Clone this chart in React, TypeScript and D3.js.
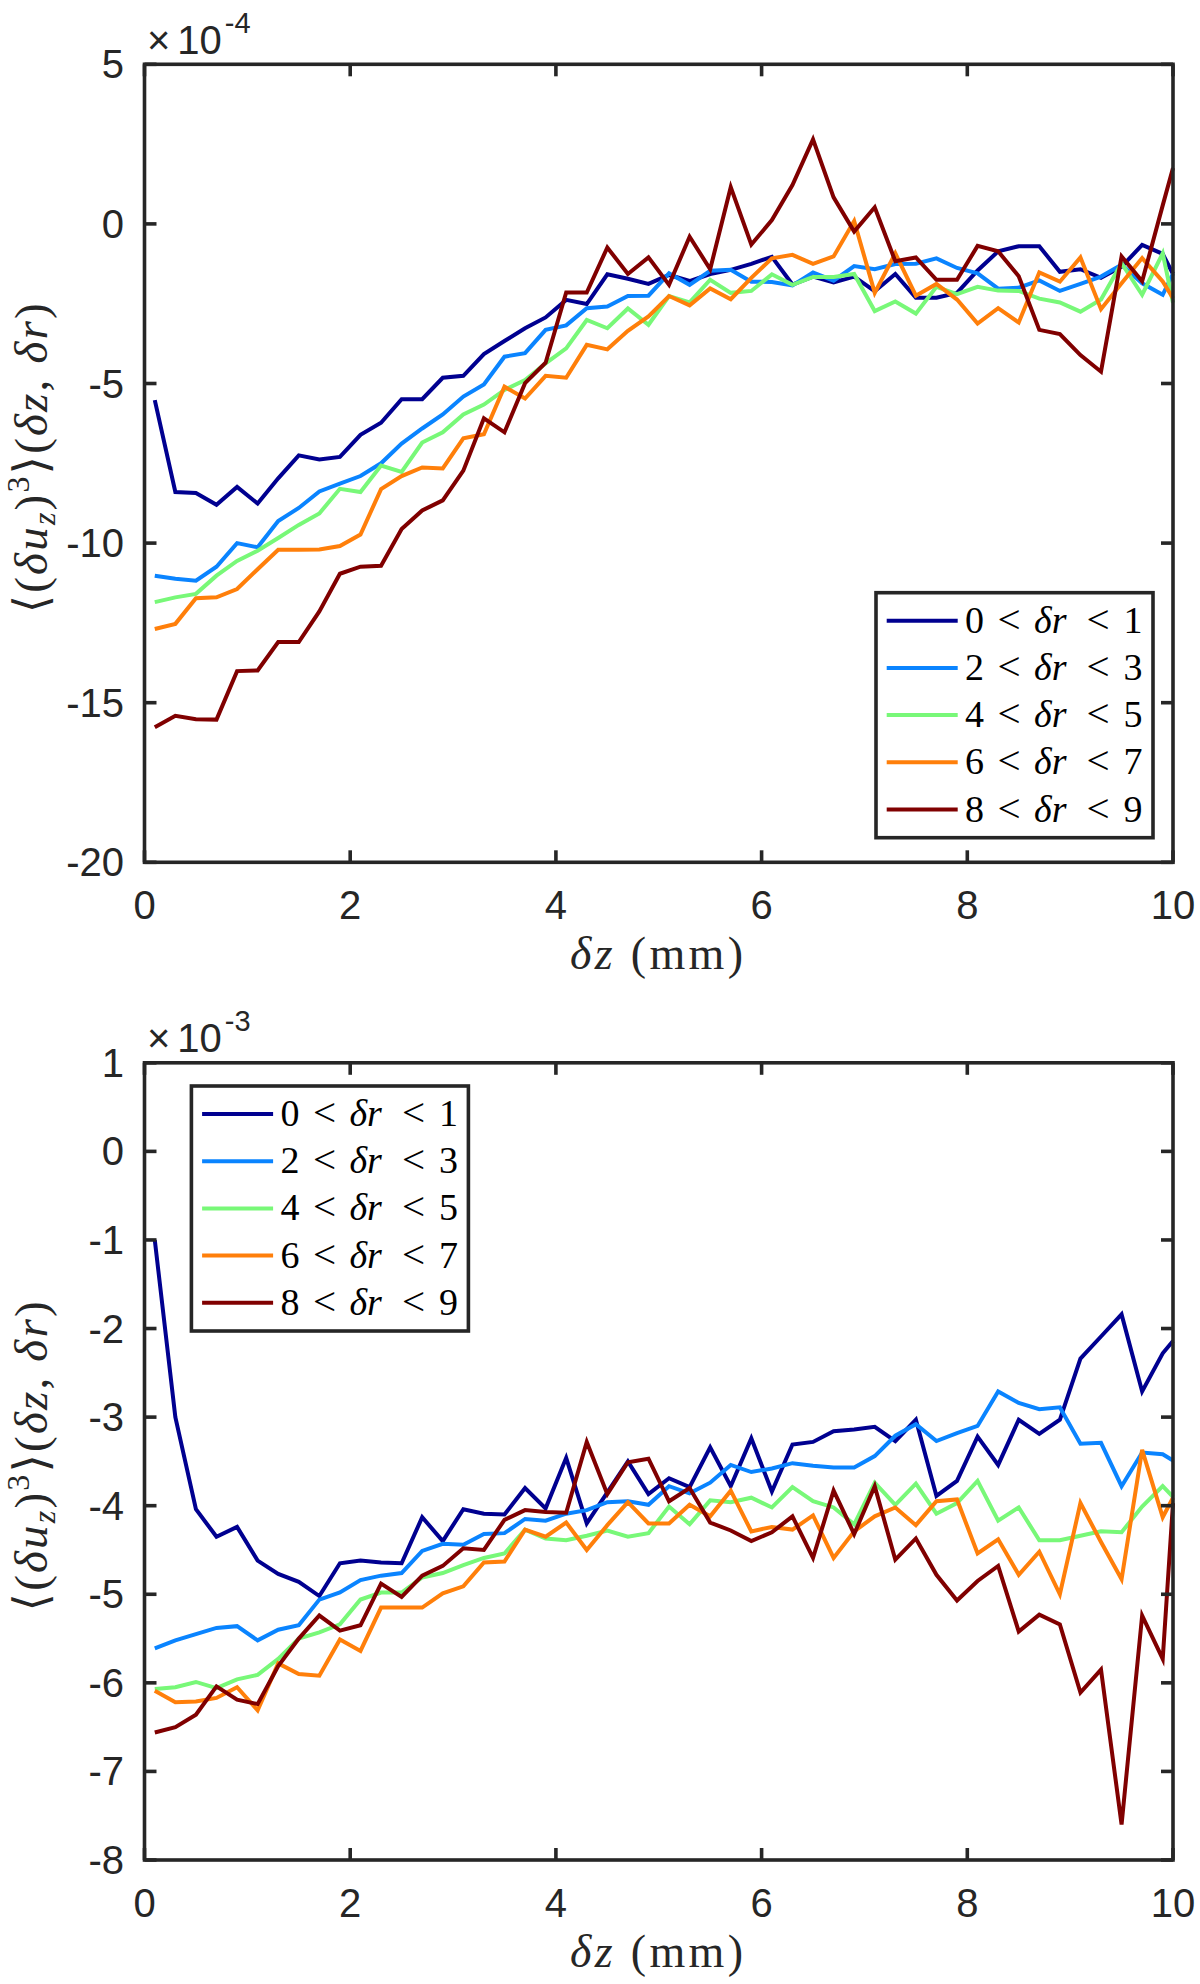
import React from 'react';
import * as d3 from 'd3';

// δz sample positions (mm)
const DZ = [
  0.1, 0.3, 0.5, 0.7, 0.9, 1.1, 1.3, 1.5, 1.7, 1.9,
  2.1, 2.3, 2.5, 2.7, 2.9, 3.1, 3.3, 3.5, 3.7, 3.9,
  4.1, 4.3, 4.5, 4.7, 4.9, 5.1, 5.3, 5.5, 5.7, 5.9,
  6.1, 6.3, 6.5, 6.7, 6.9, 7.1, 7.3, 7.5, 7.7, 7.9,
  8.1, 8.3, 8.5, 8.7, 8.9, 9.1, 9.3, 9.5, 9.7, 9.9,
  10,
];

// Top panel (×10^-4)
const TOP_R01 = [
  -5.52, -8.40, -8.43, -8.80, -8.24, -8.76, -7.97, -7.25, -7.38, -7.30,
  -6.61, -6.23, -5.49, -5.49, -4.82, -4.76, -4.08, -3.67, -3.27, -2.93,
  -2.38, -2.51, -1.58, -1.72, -1.88, -1.60, -1.79, -1.57, -1.44, -1.25,
  -1.03, -1.90, -1.65, -1.83, -1.65, -2.11, -1.57, -2.31, -2.31, -2.16,
  -1.46, -0.86, -0.70, -0.70, -1.50, -1.42, -1.69, -1.34, -0.66, -0.94,
  -1.57,
];
const TOP_R23 = [
  -11.02, -11.12, -11.18, -10.74, -10.00, -10.13, -9.31, -8.90, -8.38, -8.14,
  -7.90, -7.50, -6.88, -6.41, -5.97, -5.41, -5.03, -4.16, -4.05, -3.32,
  -3.18, -2.64, -2.59, -2.26, -2.25, -1.55, -1.91, -1.47, -1.44, -1.81,
  -1.82, -1.93, -1.52, -1.78, -1.32, -1.42, -1.26, -1.25, -1.08, -1.38,
  -1.55, -2.03, -2.00, -1.77, -2.10, -1.88, -1.65, -1.28, -1.86, -2.22,
  -1.56,
];
const TOP_R45 = [
  -11.85, -11.70, -11.59, -11.02, -10.56, -10.24, -9.84, -9.43, -9.07, -8.30,
  -8.40, -7.57, -7.77, -6.85, -6.53, -5.97, -5.66, -5.20, -4.89, -4.37,
  -3.90, -3.01, -3.27, -2.65, -3.16, -2.26, -2.46, -1.75, -2.16, -2.10,
  -1.58, -1.91, -1.66, -1.66, -1.57, -2.73, -2.43, -2.81, -1.97, -2.20,
  -1.97, -2.09, -2.10, -2.34, -2.46, -2.75, -2.37, -1.23, -2.22, -0.92,
  -2.47,
];
const TOP_R67 = [
  -12.69, -12.53, -11.73, -11.70, -11.44, -10.82, -10.21, -10.21, -10.20, -10.09,
  -9.73, -8.31, -7.90, -7.63, -7.66, -6.72, -6.59, -5.10, -5.47, -4.76,
  -4.82, -3.79, -3.93, -3.35, -2.90, -2.26, -2.55, -2.02, -2.36, -1.69,
  -1.08, -0.97, -1.25, -1.02, 0.09, -2.16, -0.92, -2.25, -1.88, -2.37,
  -3.12, -2.64, -3.09, -1.52, -1.81, -1.05, -2.67, -1.86, -1.07, -1.80,
  -2.33,
];
const TOP_R89 = [
  -15.77, -15.41, -15.52, -15.53, -14.01, -13.99, -13.10, -13.10, -12.14, -10.96,
  -10.74, -10.71, -9.56, -8.98, -8.66, -7.73, -6.09, -6.53, -4.99, -4.35,
  -2.15, -2.15, -0.74, -1.57, -1.05, -1.91, -0.40, -1.42, 1.15, -0.65,
  0.12, 1.22, 2.65, 0.83, -0.24, 0.52, -1.17, -1.05, -1.75, -1.75,
  -0.69, -0.86, -1.64, -3.32, -3.45, -4.11, -4.63, -1.02, -1.80, 0.58,
  1.75,
];

// Bottom panel (×10^-3)
const BOT_R01 = [
  -1.00, -3.00, -4.04, -4.35, -4.24, -4.62, -4.77, -4.86, -5.02, -4.65,
  -4.62, -4.64, -4.65, -4.13, -4.40, -4.04, -4.09, -4.10, -3.80, -4.03,
  -3.46, -4.20, -3.85, -3.50, -3.87, -3.69, -3.79, -3.34, -3.78, -3.24,
  -3.84, -3.31, -3.28, -3.16, -3.14, -3.11, -3.27, -3.03, -3.89, -3.72,
  -3.22, -3.54, -3.03, -3.19, -3.03, -2.34, -2.09, -1.84, -2.71, -2.28,
  -2.14,
];
const BOT_R23 = [
  -5.61, -5.52, -5.45, -5.38, -5.36, -5.52, -5.40, -5.35, -5.06, -4.98,
  -4.84, -4.79, -4.76, -4.51, -4.43, -4.44, -4.32, -4.31, -4.15, -4.17,
  -4.09, -4.05, -3.96, -3.95, -3.99, -3.78, -3.86, -3.74, -3.54, -3.62,
  -3.58, -3.52, -3.55, -3.57, -3.57, -3.44, -3.21, -3.08, -3.27, -3.18,
  -3.10, -2.71, -2.84, -2.91, -2.89, -3.30, -3.29, -3.78, -3.40, -3.42,
  -3.49,
];
const BOT_R45 = [
  -6.07, -6.05, -5.99, -6.06, -5.96, -5.91, -5.73, -5.50, -5.43, -5.34,
  -5.06, -4.98, -4.98, -4.81, -4.76, -4.67, -4.59, -4.54, -4.27, -4.37,
  -4.39, -4.34, -4.28, -4.35, -4.31, -4.01, -4.21, -3.94, -3.96, -3.91,
  -4.02, -3.79, -3.95, -4.02, -4.21, -3.74, -3.99, -3.75, -4.09, -3.97,
  -3.72, -4.17, -4.02, -4.39, -4.39, -4.34, -4.29, -4.30, -4.01, -3.78,
  -3.90,
];
const BOT_R67 = [
  -6.09, -6.22, -6.21, -6.17, -6.05, -6.31, -5.78, -5.90, -5.92, -5.51,
  -5.64, -5.15, -5.15, -5.15, -4.99, -4.91, -4.64, -4.63, -4.27, -4.35,
  -4.19, -4.50, -4.22, -3.96, -4.20, -4.20, -3.99, -4.12, -3.83, -4.29,
  -4.24, -4.27, -4.11, -4.59, -4.29, -4.12, -4.02, -4.22, -3.95, -3.93,
  -4.54, -4.38, -4.78, -4.52, -5.00, -3.97, -4.41, -4.83, -3.37, -4.13,
  -3.91,
];
const BOT_R89 = [
  -6.56, -6.50, -6.36, -6.04, -6.19, -6.24, -5.81, -5.50, -5.24, -5.41,
  -5.35, -4.88, -5.03, -4.79, -4.68, -4.48, -4.50, -4.16, -4.05, -4.07,
  -4.08, -3.28, -3.87, -3.51, -3.47, -3.95, -3.80, -4.19, -4.28, -4.40,
  -4.30, -4.12, -4.59, -3.83, -4.32, -3.78, -4.61, -4.37, -4.78, -5.07,
  -4.85, -4.68, -5.42, -5.23, -5.34, -6.11, -5.85, -7.60, -5.24, -5.73,
  -3.97,
];

const LEGEND_RANGES = [[0, 1], [2, 3], [4, 5], [6, 7], [8, 9]];
const COLORS = ['#000090', '#0A84FF', '#78F878', '#FF7F0A', '#800000'];
const X_TICKS = [0, 2, 4, 6, 8, 10];
const TOP_Y_TICKS = [-20, -15, -10, -5, 0, 5];
const BOT_Y_TICKS = [-8, -7, -6, -5, -4, -3, -2, -1, 0, 1];

const AX = '#262626';
const SANS = "'Liberation Sans', Arial, Helvetica, sans-serif";
const SERIF = "'Liberation Serif', 'DejaVu Serif', serif";

const X_LEFT = 144.5;
const X_RIGHT = 1173;
const TICK = 12;
const LINE_W = 4;

interface PanelProps {
  top: number;
  bottom: number;
  yDomain: [number, number];
  yTicks: number[];
  series: number[][];
  exponent: string;
  legendX: number;
  legendY: number;
}

function Panel({ top, bottom, yDomain, yTicks, series, exponent, legendX, legendY }: PanelProps) {
  const x = d3.scaleLinear().domain([0, 10]).range([X_LEFT, X_RIGHT]);
  const y = d3.scaleLinear().domain(yDomain).range([bottom, top]);
  const line = d3
    .line<number>()
    .x((_, i) => x(DZ[i]))
    .y((v) => y(v));
  const midY = (top + bottom) / 2;
  const legW = 277;
  const legH = 245;
  return (
    <g>
      {series.map((s, i) => (
        <path key={i} d={line(s) || ''} fill="none" stroke={COLORS[i]} strokeWidth={LINE_W} strokeLinejoin="miter" />
      ))}
      {/* axes box */}
      <rect x={X_LEFT} y={top} width={X_RIGHT - X_LEFT} height={bottom - top} fill="none" stroke={AX} strokeWidth={3.6} />
      {X_TICKS.map((t) => (
        <g key={'xt' + t}>
          <line x1={x(t)} x2={x(t)} y1={bottom} y2={bottom - TICK} stroke={AX} strokeWidth={3.6} />
          <line x1={x(t)} x2={x(t)} y1={top} y2={top + TICK} stroke={AX} strokeWidth={3.6} />
          <text x={x(t)} y={bottom + 57} textAnchor="middle" fontFamily={SANS} fontSize={40} fill={AX}>
            {t}
          </text>
        </g>
      ))}
      {yTicks.map((t) => (
        <g key={'yt' + t}>
          <line x1={X_LEFT} x2={X_LEFT + TICK} y1={y(t)} y2={y(t)} stroke={AX} strokeWidth={3.6} />
          <line x1={X_RIGHT} x2={X_RIGHT - TICK} y1={y(t)} y2={y(t)} stroke={AX} strokeWidth={3.6} />
          <text x={124} y={y(t) + 14} textAnchor="end" fontFamily={SANS} fontSize={40} fill={AX}>
            {t}
          </text>
        </g>
      ))}
      {/* exponent */}
      <text x={147} y={top - 10.5} fontFamily={SANS} fontSize={40} fill={AX} style={{ fontSize: '40px' }}>
        <tspan>×</tspan>
        <tspan dx={7}>10</tspan>
        <tspan dx={3} dy={-21} style={{ fontSize: '29px' }}>
          {exponent}
        </tspan>
      </text>
      {/* x label */}
      <text
        x={570}
        y={bottom + 107}
        fontFamily={SERIF}
        fontSize={46}
        fill={AX}
        textLength={173}
        lengthAdjust="spacing"
      >
        <tspan fontStyle="italic">δz</tspan>
        <tspan> (mm)</tspan>
      </text>
      {/* y label */}
      <text
        transform={`translate(47,${midY - 5}) rotate(-90)`}
        textAnchor="middle"
        fontFamily={SERIF}
        fontSize={47}
        fill={AX}
        textLength={310}
        lengthAdjust="spacing"
      >
        <tspan>⟨(</tspan>
        <tspan fontStyle="italic">δu</tspan>
        <tspan fontStyle="italic" fontSize={32} dy={8}>z</tspan>
        <tspan dy={-8}>)</tspan>
        <tspan fontSize={32} dy={-18}>3</tspan>
        <tspan dy={18}>⟩(</tspan>
        <tspan fontStyle="italic">δz</tspan>
        <tspan>, </tspan>
        <tspan fontStyle="italic">δr</tspan>
        <tspan>)</tspan>
      </text>
      {/* legend */}
      <rect x={legendX} y={legendY} width={legW} height={legH} fill="#ffffff" stroke={AX} strokeWidth={3.6} />
      {LEGEND_RANGES.map((r, i) => {
        const ry = legendY + 28 + i * 47.2;
        return (
          <g key={'lg' + i}>
            <line x1={legendX + 10.7} x2={legendX + 81.7} y1={ry} y2={ry} stroke={COLORS[i]} strokeWidth={LINE_W} />
            <text y={ry + 12} fontFamily={SERIF} fontSize={38} fill="#000">
              <tspan x={legendX + 89}>{r[0]}</tspan>
              <tspan x={legendX + 121.5} fontSize={41}>{'<'}</tspan>
              <tspan x={legendX + 158} fontStyle="italic">δr</tspan>
              <tspan x={legendX + 210.5} fontSize={41}>{'<'}</tspan>
              <tspan x={legendX + 247.5}>{r[1]}</tspan>
            </text>
          </g>
        );
      })}
    </g>
  );
}

export default function App() {
  return (
    <div style={{ position: 'absolute', left: 0, top: 0 }}>
      <svg width={1200} height={1984} viewBox="0 0 1200 1984" style={{ display: 'block' }}>
        <rect x={0} y={0} width={1200} height={1984} fill="#ffffff" />
        <Panel
          top={64.3}
          bottom={862.3}
          yDomain={[-20, 5]}
          yTicks={TOP_Y_TICKS}
          series={[TOP_R01, TOP_R23, TOP_R45, TOP_R67, TOP_R89]}
          exponent="-4"
          legendX={876}
          legendY={592.7}
        />
        <Panel
          top={1062.8}
          bottom={1860}
          yDomain={[-8, 1]}
          yTicks={BOT_Y_TICKS}
          series={[BOT_R01, BOT_R23, BOT_R45, BOT_R67, BOT_R89]}
          exponent="-3"
          legendX={191.4}
          legendY={1086}
        />
      </svg>
    </div>
  );
}
